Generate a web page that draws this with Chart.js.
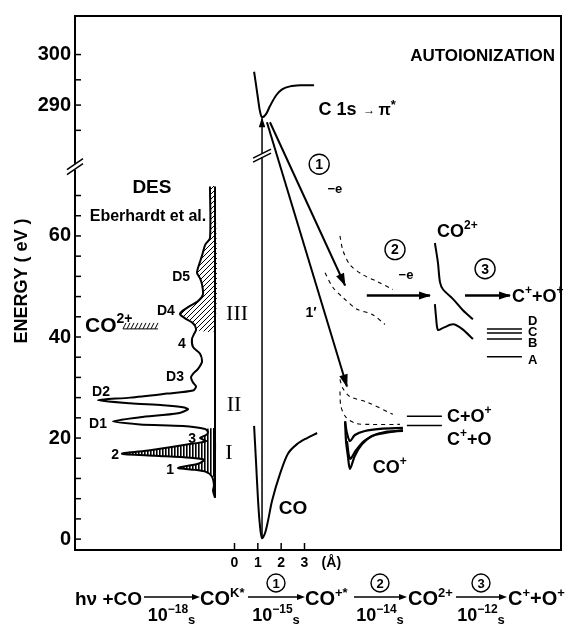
<!DOCTYPE html>
<html>
<head>
<meta charset="utf-8">
<script src="https://cdn.jsdelivr.net/npm/chart.js@4.4.1/dist/chart.umd.min.js"></script>
<style>
  html, body { margin: 0; padding: 0; background: #fff; }
  #c { display: block; }
</style>
</head>
<body>
<canvas id="c" width="569" height="624"></canvas>
<script>
// ---------- energy axis with a break: core-excitation energies (> 200 eV) are shifted down ----------
const BREAK_SHIFT = 204.1;
const ax = e => (e > 200 ? e - BREAK_SHIFT : e);

// ---------- axis ticks ----------
const yTickValues = [0, 20, 40, 60, 290, 300];
const yTickLabels = ['0', '20', '40', '60', '290', '300'];
const yMinorValues = [4, 8, 12, 16, 24, 28, 32, 36, 44, 48, 52, 56, 64, 68, 285, 295];
const xTickValues = [0, 1, 2, 3];
const xTickLabels = ['0', '1', '2', '3'];

// ---------- DES spectrum (Eberhardt et al.): energy (eV) vs intensity (arb. units, growing leftwards) ----------
const desEnergy = [69.8, 59.6, 58.2, 56.1, 53.7, 52.7, 51.6, 50.4, 48.4, 47.1, 45.9, 45.1, 44.5, 43.7, 42.9,
  42.2, 41.4, 40.6, 39.6, 38.0, 36.7, 35.1, 33.7, 32.7, 32.0, 31.0, 30.2, 29.4, 28.8, 28.0, 27.5, 26.9,
  26.5, 26.1, 25.7, 24.9, 24.1, 23.3, 22.7, 22.4, 21.8, 21.2, 20.6, 20.0, 19.4, 18.8, 17.6, 16.9, 16.5,
  16.1, 15.7, 14.9, 14.1, 13.7, 13.3, 12.4, 10.6, 9.6, 8.2];
const desIntensity = [4.3, 4.3, 8.5, 11.1, 14.5, 15.4, 12.8, 11.1, 10.3, 14.5, 23.1, 28.2, 29.9, 25.6, 19.7,
  17.1, 16.2, 17.9, 19.7, 18.8, 12.8, 11.1, 14.5, 18.8, 20.5, 18.8, 16.2, 18.8, 41.0, 72.6, 100, 72.6,
  44.4, 27.4, 23.1, 31.6, 64.1, 87.2, 64.1, 27.4, 8.5, 6.0, 7.7, 12.8, 7.7, 21.4, 55.6, 79.5, 51.3,
  21.4, 9.4, 14.5, 31.6, 17.1, 7.7, 2.6, 0.9, 1.7, 0];
const bandIII = [41.4, 69.8];   // hatched region (energy range, eV)
const bandI = [12.4, 21.8];     // shaded region (energy range, eV)
const co2ThresholdE = 41.8;     // double-ionization threshold marker
const co2ThresholdSpan = [-4.78, -3.28];

// ---------- potential curves: internuclear distance r (Å) vs energy (eV) ----------
const coR = [0.84, 0.92, 1.01, 1.09, 1.18, 1.31, 1.44, 1.61, 1.95, 2.29, 2.68, 3.11, 3.54];
const coE = [22.4, 15.5, 7.6, 2.7, 0.2, 1.2, 3.7, 7.6, 12.9, 16.9, 18.8, 20.0, 21.0];

const c1sR = [0.84, 0.92, 1.01, 1.09, 1.18, 1.35, 1.52, 1.78, 2.04, 2.38, 2.81, 3.41];
const c1sE = [296.6, 294.1, 291.2, 288.8, 287.6, 288.2, 289.8, 291.9, 293.1, 293.7, 293.9, 293.9];

// CO+* states (dashed)
const coPlusStarA_R = [4.52, 4.65, 4.95, 5.47, 6.11, 6.79];
const coPlusStarA_E = [60.0, 57.1, 54.3, 52.4, 51.0, 49.4];
const coPlusStarB_R = [3.88, 4.22, 4.65, 5.25, 5.89, 6.45];
const coPlusStarB_E = [52.7, 49.8, 47.8, 45.5, 44.5, 42.5];
const coPlusStarC_R = [4.52, 4.65, 4.95, 5.68, 6.79];
const coPlusStarC_E = [31.6, 29.8, 28.2, 27.1, 24.7];
const coPlusStarD_R = [4.52, 4.56, 4.78, 5.21, 5.81, 7.09];
const coPlusStarD_E = [29.2, 26.3, 24.1, 22.9, 22.7, 22.7];

// CO+ bound states
const coPlusA_R = [4.74, 4.82, 4.95, 5.16, 5.59, 6.24, 7.22];
const coPlusA_E = [23.3, 21.0, 19.4, 20.6, 21.4, 21.8, 22.0];
const coPlusB_R = [4.74, 4.78, 4.86, 4.95, 5.16, 5.47, 5.89, 6.45, 7.22];
const coPlusB_E = [23.3, 19.4, 16.5, 13.9, 16.5, 18.8, 20.4, 21.2, 21.4];
const coPlusC_R = [4.82, 4.95, 5.21, 5.55, 6.02, 7.22];
const coPlusC_E = [19.4, 15.9, 17.6, 19.4, 20.6, 21.6];

// CO2+ states
const co2pA_R = [8.59, 8.72, 8.81, 8.94, 9.37, 9.79, 10.22];
const co2pA_E = [58.6, 54.7, 50.8, 49.4, 47.5, 45.3, 43.5];
const co2pB_R = [8.59, 8.64, 8.72, 8.94, 9.37, 9.75, 10.22];
const co2pB_E = [46.5, 43.9, 41.4, 41.8, 42.5, 41.6, 39.6];

// dissociation limits
const coPlusLimitE = [24.3, 22.5];          // C+O+, C++O
const coPlusLimitR = [7.39, 8.89];
const dicationLimitE = [41.6, 40.8, 39.6, 36.1];   // D, C, B, A  (C+ + O+)
const dicationLimitNames = ['D', 'C', 'B', 'A'];
const dicationLimitR = [10.82, 12.32];

// transitions
const exciteR = 1.18, exciteE = [0.2, 287.4];
const step1R = [1.52, 4.74], step1E = [286.6, 50.2];
const step1pR = [1.39, 4.82], step1pE = [286.6, 30.2];
const step2R = [5.67, 8.38], step2E = [48.2, 48.2];
const step3R = [9.88, 11.81], step3E = [48.2, 48.2];

// ---------- helpers ----------
const FONT = '"Liberation Sans", Arial, Helvetica, sans-serif';
const SERIF = '"Liberation Serif", "DejaVu Serif", serif';
const pts = (rs, es) => rs.map((r, i) => ({ x: r, y: ax(es[i]) }));

function hatch(kind) {
  const c = document.createElement('canvas');
  const g = c.getContext('2d');
  if (kind === 'diag') {
    c.width = 5; c.height = 5;
    g.strokeStyle = '#000'; g.lineWidth = 1;
    g.beginPath();
    g.moveTo(-1, 6); g.lineTo(6, -1);
    g.moveTo(-1, 1); g.lineTo(1, -1);
    g.moveTo(4, 6); g.lineTo(6, 4);
    g.stroke();
  } else {
    c.width = 3; c.height = 3;
    g.fillStyle = '#000';
    g.fillRect(0, 0, 1.6, 3);
  }
  return g.createPattern(c, 'repeat');
}

const desOutline = desEnergy.map((e, i) => ({ x: desIntensity[i], y: e }));
function desBand(range) {
  const inside = desOutline.filter(p => p.y >= range[0] - 1e-9 && p.y <= range[1] + 1e-9);
  return [...inside, { x: 0, y: range[0] }, { x: 0, y: range[1] }, inside[0]];
}

const line = (data, extra = {}) => Object.assign({
  data, borderColor: '#000', borderWidth: 2, pointRadius: 0, fill: false, tension: 0.3
}, extra);

const datasets = [
  // DES spectrum
  line(desBand(bandIII), { xAxisID: 'des', borderWidth: 0, fill: 'shape', backgroundColor: hatch('diag'), tension: 0.25 }),
  line(desBand(bandI), { xAxisID: 'des', borderWidth: 0, fill: 'shape', backgroundColor: hatch('vert'), tension: 0.25 }),
  line(desOutline, { xAxisID: 'des', tension: 0.25 }),
  line([{ x: 0, y: bandIII[1] }, { x: 0, y: desEnergy[desEnergy.length - 1] }], { xAxisID: 'des', tension: 0 }),
  // potential curves
  line(pts(coR, coE)),
  line(pts(c1sR, c1sE)),
  line(pts(coPlusStarA_R, coPlusStarA_E), { borderWidth: 1.1, borderDash: [4, 4] }),
  line(pts(coPlusStarB_R, coPlusStarB_E), { borderWidth: 1.1, borderDash: [4, 4] }),
  line(pts(coPlusStarC_R, coPlusStarC_E), { borderWidth: 1.1, borderDash: [4, 4] }),
  line(pts(coPlusStarD_R, coPlusStarD_E), { borderWidth: 1.1, borderDash: [4, 4] }),
  line(pts(coPlusA_R, coPlusA_E), { borderWidth: 2.2 }),
  line(pts(coPlusB_R, coPlusB_E), { borderWidth: 2.2 }),
  line(pts(coPlusC_R, coPlusC_E), { borderWidth: 2.2 }),
  line(pts(co2pA_R, co2pA_E)),
  line(pts(co2pB_R, co2pB_E)),
  // dissociation limits
  ...coPlusLimitE.map(e => line(pts(coPlusLimitR, [e, e]), { borderWidth: 1.5, tension: 0 })),
  ...dicationLimitE.map(e => line(pts(dicationLimitR, [e, e]), { borderWidth: 1.5, tension: 0 })),
  // transitions
  line(pts([exciteR, exciteR], exciteE), { borderWidth: 1.5, tension: 0, arrowHead: 9 }),
  line(pts(step1R, step1E), { tension: 0, arrowHead: 12 }),
  line(pts(step1pR, step1pE), { tension: 0, arrowHead: 12 }),
  line(pts(step2R, step2E), { borderWidth: 2.5, tension: 0, arrowHead: 11 }),
  line(pts(step3R, step3E), { borderWidth: 2.5, tension: 0, arrowHead: 11 })
];

// ---------- arrowheads at the end of transition lines ----------
const arrowHeads = {
  id: 'arrowHeads',
  afterDatasetsDraw(chart) {
    const ctx = chart.ctx;
    chart.data.datasets.forEach((ds, i) => {
      if (!ds.arrowHead) return;
      const p = chart.getDatasetMeta(i).data;
      const p1 = p[p.length - 1], p0 = p[p.length - 2];
      const ang = Math.atan2(p1.y - p0.y, p1.x - p0.x);
      const L = ds.arrowHead, W = L * 0.36;
      ctx.save();
      ctx.translate(p1.x, p1.y); ctx.rotate(ang);
      ctx.beginPath(); ctx.moveTo(1, 0); ctx.lineTo(-L, -W); ctx.lineTo(-L, W); ctx.closePath();
      ctx.fillStyle = '#000'; ctx.fill();
      ctx.restore();
    });
  }
};

// ---------- text helpers ----------
function rich(ctx, parts, x, yBase, align) {
  const f = p => `${p[3] || 'bold'} ${p[1]}px ${p[4] || FONT}`;
  let w = 0;
  for (const p of parts) { ctx.font = f(p); w += ctx.measureText(p[0]).width; }
  let cx = align === 'center' ? x - w / 2 : align === 'right' ? x - w : x;
  ctx.textAlign = 'left'; ctx.textBaseline = 'alphabetic';
  for (const p of parts) {
    ctx.font = f(p);
    ctx.fillText(p[0], cx, yBase + (p[2] || 0));
    cx += ctx.measureText(p[0]).width;
  }
  return w;
}
function circled(ctx, digit, cx, cy, r) {
  ctx.beginPath(); ctx.arc(cx, cy, r, 0, Math.PI * 2);
  ctx.lineWidth = 1.4; ctx.strokeStyle = '#000'; ctx.stroke();
  ctx.font = `bold ${Math.round(r * 1.4)}px ${FONT}`;
  ctx.textAlign = 'center'; ctx.textBaseline = 'middle';
  ctx.fillText(digit, cx, cy + 1);
}
function arrowRight(ctx, x1, x2, y) {
  ctx.beginPath(); ctx.moveTo(x1, y); ctx.lineTo(x2 - 6, y);
  ctx.lineWidth = 1.6; ctx.stroke();
  ctx.beginPath(); ctx.moveTo(x2, y); ctx.lineTo(x2 - 8, y - 3); ctx.lineTo(x2 - 8, y + 3); ctx.closePath(); ctx.fill();
}

// labels placed in axis units (r in Å, energy-axis units)
const diagramLabels = [
  { at: [13.74, 95.9], align: 'right', parts: [['AUTOIONIZATION', 17]] },
  { at: [3.60, 85.3], align: 'left', parts: [['C 1s', 18], ['  \u2192 ', 12, -1], ['\u03c0', 16], ['*', 13, -6]] },
  { at: [4.30, 69.4], align: 'center', parts: [['\u2212e', 13]] },
  { at: [7.35, 52.5], align: 'center', parts: [['\u2212e', 13]] },
  { at: [8.68, 61.0], align: 'left', parts: [['CO', 18], ['2+', 12, -8]] },
  { at: [11.89, 48.2], align: 'left', parts: [['C', 18], ['+', 12, -8], ['+O', 18], ['+', 12, -8]] },
  { at: [3.28, 44.9], align: 'center', parts: [['1\u2032', 14]] },
  { at: [9.11, 24.5], align: 'left', parts: [['C+O', 18], ['+', 12, -8]] },
  { at: [9.11, 20.0], align: 'left', parts: [['C', 18], ['+', 12, -8], ['+O', 18]] },
  { at: [6.66, 14.3], align: 'center', parts: [['CO', 18], ['+', 12, -8]] },
  { at: [2.51, 6.3], align: 'center', parts: [['CO', 19]] },
  { at: [0.11, 44.9], align: 'center', parts: [['III', 22, 0, 'normal', SERIF]] },
  { at: [-0.02, 26.9], align: 'center', parts: [['II', 22, 0, 'normal', SERIF]] },
  { at: [-0.24, 17.5], align: 'center', parts: [['I', 22, 0, 'normal', SERIF]] },
  { at: [-3.54, 69.8], align: 'center', parts: [['DES', 19]] },
  { at: [-3.71, 64.1], align: 'center', parts: [['Eberhardt et al.', 16]] },
  { at: [-2.29, 52.0], align: 'center', parts: [['D5', 14]] },
  { at: [-2.94, 45.3], align: 'center', parts: [['D4', 14]] },
  { at: [-2.25, 38.8], align: 'center', parts: [['4', 14]] },
  { at: [-2.55, 32.2], align: 'center', parts: [['D3', 14]] },
  { at: [-5.72, 29.4], align: 'center', parts: [['D2', 14]] },
  { at: [-5.85, 22.9], align: 'center', parts: [['D1', 14]] },
  { at: [-1.82, 20.0], align: 'center', parts: [['3', 14]] },
  { at: [-5.12, 16.9], align: 'center', parts: [['2', 14]] },
  { at: [-2.76, 13.9], align: 'center', parts: [['1', 14]] },
  { at: [-6.41, 42.5], align: 'left', parts: [['CO', 21], ['2+', 14, -9]] }
];
// letter labels of the C+ + O+ limits, set slightly apart from their lines
const dicationLabelE = [43.3, 41.1, 38.9, 35.6];
const stepCircles = [{ d: '1', at: [3.63, 74.2] }, { d: '2', at: [6.88, 57.3] }, { d: '3', at: [10.74, 53.5] }];

// ---------- frame, inward ticks, axis breaks, annotations, reaction scheme ----------
const decor = {
  id: 'decor',
  afterDraw(chart) {
    const { ctx, chartArea: a, scales: { x, y } } = chart;
    const X = v => x.getPixelForValue(v), Y = v => y.getPixelForValue(v);
    const seg = (x1, y1, x2, y2) => { ctx.beginPath(); ctx.moveTo(x1, y1); ctx.lineTo(x2, y2); ctx.stroke(); };
    ctx.save();
    ctx.strokeStyle = '#000'; ctx.fillStyle = '#000';

    // frame
    ctx.lineWidth = 2;
    ctx.strokeRect(a.left, a.top, a.right - a.left, a.bottom - a.top);

    // inward tick marks
    ctx.lineWidth = 1.5;
    [...yTickValues, ...yMinorValues].forEach(v => { const py = Y(ax(v)); seg(a.left, py, a.left + 6, py); });
    xTickValues.forEach(v => { const px = X(v); seg(px, a.bottom, px, a.bottom - 7); });

    // break on the energy axis
    const yb = Y(73.7);
    ctx.fillStyle = '#fff'; ctx.fillRect(a.left - 2, yb - 3, 4, 6); ctx.fillStyle = '#000';
    ctx.lineWidth = 1.5;
    seg(a.left - 8, yb + 3, a.left + 8, yb - 8);
    seg(a.left - 8, yb + 8, a.left + 8, yb - 3);

    // break on the excitation line
    const xe = X(exciteR), ye = Y(76.0);
    ctx.fillStyle = '#fff'; ctx.fillRect(xe - 2, ye - 2, 4, 4); ctx.fillStyle = '#000';
    seg(xe - 9, ye + 3, xe + 9, ye - 6);
    seg(xe - 9, ye + 7, xe + 9, ye - 2);

    // CO2+ threshold marker in the DES panel
    const ty = Y(co2ThresholdE);
    const tx1 = X(co2ThresholdSpan[0]), tx2 = X(co2ThresholdSpan[1]);
    ctx.lineWidth = 1;
    seg(tx1, ty + 1, tx2, ty + 1);
    for (let px = tx1 + 2; px <= tx2; px += 4) seg(px - 2, ty + 1, px + 1, ty - 5);

    // diagram labels
    diagramLabels.forEach(l => {
      const size = l.parts[0][1];
      rich(ctx, l.parts, X(l.at[0]), Y(l.at[1]) + size * 0.36, l.align);
    });
    dicationLabelE.forEach((e, i) => {
      rich(ctx, [[dicationLimitNames[i], 13]], X(12.58), Y(e) + 4.5, 'left');
    });
    stepCircles.forEach(c => circled(ctx, c.d, X(c.at[0]), Y(c.at[1]), 10));

    // axis titles
    rich(ctx, [['(\u00c5)', 14]], X(4.15), a.bottom + 17, 'center');
    ctx.save();
    ctx.translate(20, 281); ctx.rotate(-Math.PI / 2);
    rich(ctx, [['ENERGY ( eV )', 18]], 0, 6.5, 'center');
    ctx.restore();

    // reaction scheme
    const base = 605, arrowY = 597, timeBase = 621, circY = 583;
    const species = [
      { x: 75, parts: [['h\u03bd', 19], [' +CO', 19]] },
      { x: 200, parts: [['CO', 20], ['K*', 13, -8]] },
      { x: 305, parts: [['CO', 20], ['+*', 13, -8]] },
      { x: 408, parts: [['CO', 20], ['2+', 13, -8]] },
      { x: 508, parts: [['C', 20], ['+', 13, -8], ['+O', 20], ['+', 13, -8]] }
    ];
    const steps = [
      { span: [143, 200], circle: null, exp: '\u221218' },
      { span: [247, 305], circle: '1', exp: '\u221215' },
      { span: [353, 407], circle: '2', exp: '\u221214' },
      { span: [455, 507], circle: '3', exp: '\u221212' }
    ];
    species.forEach(s => rich(ctx, s.parts, s.x, base, 'left'));
    steps.forEach(s => {
      const mid = (s.span[0] + s.span[1]) / 2;
      arrowRight(ctx, s.span[0] + 1, s.span[1], arrowY);
      if (s.circle) circled(ctx, s.circle, mid, circY, 9);
      rich(ctx, [['10', 18], [s.exp, 12, -8], ['s', 13, 3]], mid, timeBase, 'center');
    });

    ctx.restore();
  }
};

new Chart(document.getElementById('c'), {
  type: 'line',
  data: { datasets },
  options: {
    responsive: false,
    animation: false,
    devicePixelRatio: 1,
    layout: { padding: { top: 11, right: 8, left: 0, bottom: 0 } },
    plugins: { legend: { display: false }, tooltip: { enabled: false } },
    scales: {
      x: {
        type: 'linear', min: -6.837, max: 13.995,
        grid: { display: false, drawTicks: false }, border: { display: false },
        afterBuildTicks: s => { s.ticks = xTickValues.map(v => ({ value: v })); },
        afterFit: s => { s.height = 74; },
        ticks: {
          padding: 5, color: '#000', maxRotation: 0, autoSkip: false,
          font: { family: FONT, size: 14, weight: 'bold' },
          callback: (v, i) => xTickLabels[i]
        }
      },
      y: {
        type: 'linear', min: -2.157, max: 103.53,
        grid: { display: false, drawTicks: false }, border: { display: false },
        afterBuildTicks: s => { s.ticks = yTickValues.map(v => ({ value: ax(v) })); },
        afterFit: s => { s.width = 75; },
        ticks: {
          padding: 4, color: '#000', autoSkip: false,
          font: { family: FONT, size: 20, weight: 'bold' },
          callback: (v, i) => yTickLabels[i]
        }
      },
      des: {
        type: 'linear', axis: 'x', display: false, reverse: true,
        min: -295.7, max: 119.66
      }
    }
  },
  plugins: [arrowHeads, decor]
});
</script>
</body>
</html>
